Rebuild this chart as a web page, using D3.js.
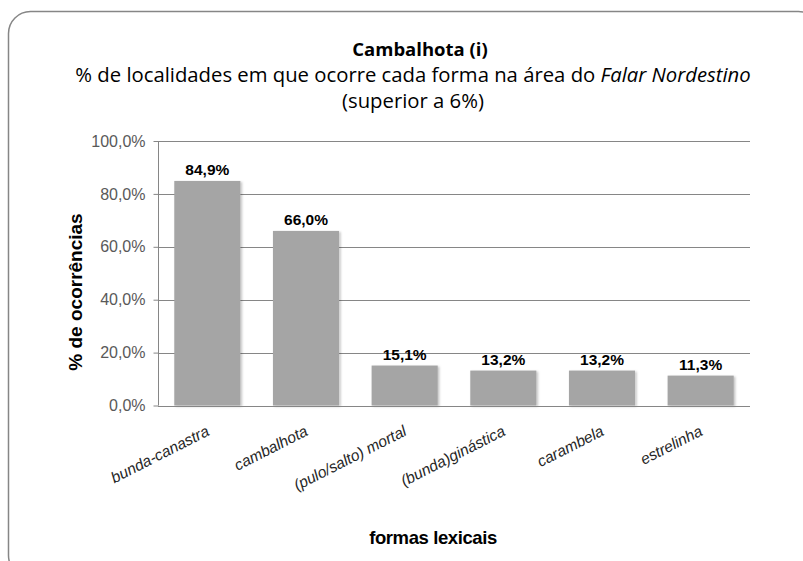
<!DOCTYPE html>
<html>
<head>
<meta charset="utf-8">
<script src="https://cdn.jsdelivr.net/npm/d3@7"></script>
<style>
  body { margin: 0; background: #fff; }
</style>
</head>
<body>
<div id="chart"></div>
<script>
const categories = ["bunda-canastra", "cambalhota", "(pulo/salto) mortal", "(bunda)ginástica", "carambela", "estrelinha"];
const values = [84.9, 66.0, 15.1, 13.2, 13.2, 11.3];
const yTicks = [0, 20, 40, 60, 80, 100];

const width = 803, height = 561;
const margin = { left: 158, right: 53, top: 141, bottom: 156 };
const fmt = v => v.toFixed(1).replace(".", ",") + "%";
const arial = "'Liberation Sans', Arial, sans-serif";
const titleFont = "'Open Sans', 'Noto Sans', sans-serif";

const svg = d3.select("#chart").append("svg")
  .attr("width", width)
  .attr("height", height);

// chart frame (runs off the right and bottom edges, as in the original)
svg.append("rect")
  .attr("x", 8.5).attr("y", 11.5)
  .attr("width", 812).attr("height", 566)
  .attr("rx", 22).attr("ry", 22)
  .attr("fill", "#fff")
  .attr("stroke", "#868686")
  .attr("stroke-width", 1.5);

// titles
svg.append("text")
  .attr("x", 420).attr("y", 56)
  .attr("text-anchor", "middle")
  .style("font-family", titleFont)
  .style("font-size", "18.5px")
  .style("font-weight", "bold")
  .text("Cambalhota (i)");

const sub = svg.append("text")
  .attr("x", 413).attr("y", 82)
  .attr("text-anchor", "middle")
  .style("font-family", titleFont)
  .style("font-size", "20.3px");
sub.append("tspan").text("% de localidades em que ocorre cada forma na área do ");
sub.append("tspan").style("font-style", "italic").text("Falar Nordestino");

svg.append("text")
  .attr("x", 413).attr("y", 108)
  .attr("text-anchor", "middle")
  .style("font-family", titleFont)
  .style("font-size", "20.3px")
  .text("(superior a 6%)");

const x = d3.scaleBand()
  .domain(categories)
  .range([margin.left, width - margin.right])
  .paddingInner(0.33)
  .paddingOuter(0.165);

const y = d3.scaleLinear()
  .domain([0, 100])
  .range([height - margin.bottom + 0.5, margin.top]);

// gridlines
svg.append("g")
  .selectAll("line")
  .data(yTicks.slice(1))
  .join("line")
  .attr("x1", margin.left).attr("x2", width - margin.right)
  .attr("y1", d => Math.round(y(d)) + 0.5)
  .attr("y2", d => Math.round(y(d)) + 0.5)
  .attr("stroke", "#868686");

// bars
const shadow = svg.append("defs").append("filter")
  .attr("id", "sh").attr("x", "-10%").attr("y", "-10%").attr("width", "130%").attr("height", "130%");
shadow.append("feDropShadow")
  .attr("dx", 1.5).attr("dy", 1).attr("stdDeviation", 1)
  .attr("flood-color", "#000").attr("flood-opacity", 0.25);

svg.append("g")
  .selectAll("rect")
  .data(values)
  .join("rect")
  .attr("x", (d, i) => x(categories[i]))
  .attr("y", d => y(d))
  .attr("width", x.bandwidth())
  .attr("height", d => y(0) - y(d))
  .attr("fill", "#a5a5a5")
  .attr("filter", "url(#sh)");

// value labels
svg.append("g")
  .selectAll("text")
  .data(values)
  .join("text")
  .attr("x", (d, i) => x(categories[i]) + x.bandwidth() / 2)
  .attr("y", d => y(d) - 6)
  .attr("text-anchor", "middle")
  .style("font-family", arial)
  .style("font-size", "15.5px")
  .style("font-weight", "bold")
  .attr("fill", "#000")
  .text(d => fmt(d));

// y axis
const yAxis = svg.append("g")
  .attr("transform", `translate(${margin.left + 0.5},0)`)
  .call(d3.axisLeft(y).tickValues(yTicks).tickFormat(fmt).tickSize(5).tickPadding(8));
yAxis.select(".domain").attr("stroke", "#868686").attr("d", `M0,${y(100)}V${y(0)}`);
yAxis.selectAll(".tick line").attr("stroke", "#868686");
yAxis.selectAll(".tick text")
  .attr("fill", "#595959")
  .style("font-family", arial)
  .style("font-size", "16px");

// x axis
const xAxis = svg.append("g")
  .attr("transform", `translate(0,${Math.round(y(0)) + 0.5})`)
  .call(d3.axisBottom(x).tickSize(0).tickPadding(0));
xAxis.select(".domain").attr("stroke", "#868686").attr("d", `M${margin.left},0H${width - margin.right}`);
xAxis.selectAll(".tick text")
  .attr("fill", "#262626")
  .style("font-family", arial)
  .style("font-size", "15.5px")
  .style("font-style", "italic")
  .attr("text-anchor", "end")
  .attr("dy", null)
  .attr("y", 0)
  .attr("transform", "translate(3,28) rotate(-27)");

// axis titles
svg.append("text")
  .attr("transform", `translate(82,292) rotate(-90)`)
  .attr("text-anchor", "middle")
  .style("font-family", arial)
  .style("font-size", "19px")
  .style("font-weight", "bold")
  .text("% de ocorrências");

svg.append("text")
  .attr("x", 433).attr("y", 544)
  .attr("text-anchor", "middle")
  .style("font-family", arial)
  .style("font-size", "18.5px")
  .style("font-weight", "bold")
  .style("letter-spacing", "-0.4px")
  .text("formas lexicais");
</script>
</body>
</html>
